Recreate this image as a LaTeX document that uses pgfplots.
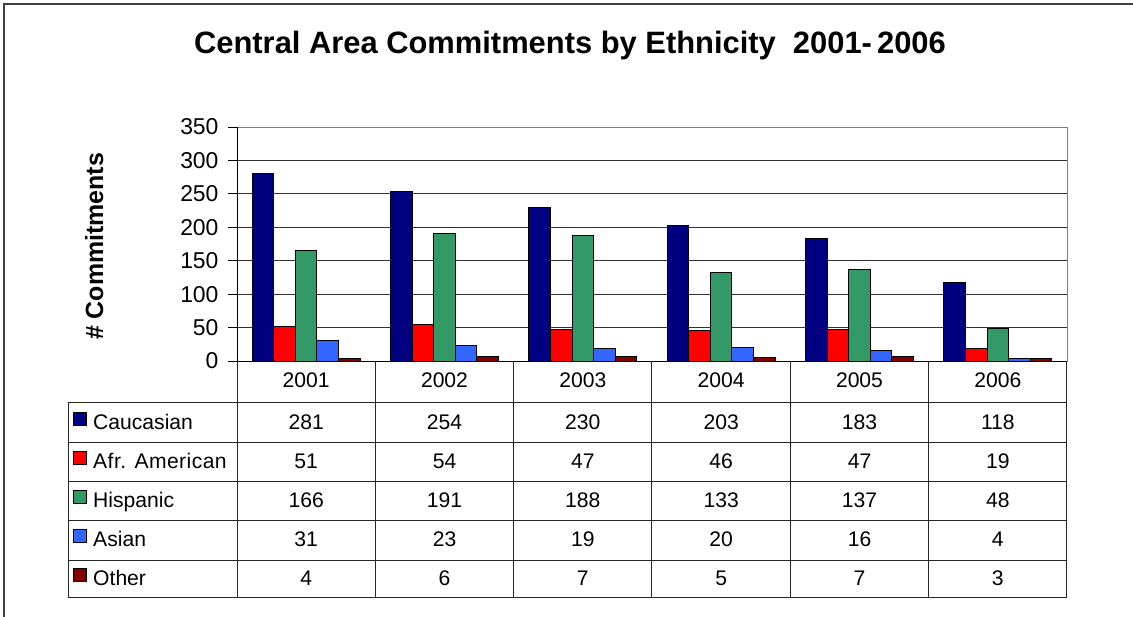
\documentclass[border=0pt]{standalone}
\usepackage{fontspec}
\setmainfont{Liberation Sans}
\usepackage{pgfplots}
\pgfplotsset{compat=1.18}
\definecolor{cauc}{RGB}{0,0,128}
\definecolor{afr}{RGB}{255,0,0}
\definecolor{hisp}{RGB}{51,153,102}
\definecolor{asian}{RGB}{51,102,255}
\definecolor{other}{RGB}{128,0,0}
\newcommand{\tf}{\fontsize{21.2}{24}\selectfont}
\begin{document}
\begin{tikzpicture}
\useasboundingbox (0,0) rectangle (1133bp,-617bp);
% outer frame (cropped)
\draw[black!75, line width=1.5bp] (4bp,-617bp) -- (4bp,-4bp) -- (1133bp,-4bp);
% title
\node[anchor=base, font=\fontsize{31}{36}\selectfont\bfseries, inner sep=0pt] at (570bp,-53bp) {Central Area Commitments by Ethnicity\ \ 2001-\,2006};
% y label
\node[anchor=base, rotate=90, font=\fontsize{25}{30}\selectfont\bfseries, inner sep=0pt] at (103bp,-246.5bp) {\# Commitments};
\begin{axis}[
  at={(237bp,-361bp)}, anchor=south west,
  scale only axis, width=830bp, height=234bp,
  xmin=-0.5, xmax=5.5, ymin=0, ymax=350,
  xtick=\empty, ytick={0,50,...,350}, ytick pos=left,
  tick align=outside, major tick length=9bp,
  ytick style={black, line width=0.8bp},
  ymajorgrids, grid style={black!80, line width=0.8bp},
  axis line style={draw=gray, line width=1bp},
  yticklabel style={font=\fontsize{23}{26}\selectfont, /pgf/number format/assume math mode=true, xshift=-6bp},
  ybar=0pt, bar width=21.6bp,
  clip=false,
]
\addplot[fill=cauc, draw=black, line width=1bp] coordinates {(0,281) (1,254) (2,230) (3,203) (4,183) (5,118)};
\addplot[fill=afr, draw=black, line width=1bp] coordinates {(0,51) (1,54) (2,47) (3,46) (4,47) (5,19)};
\addplot[fill=hisp, draw=black, line width=1bp] coordinates {(0,166) (1,191) (2,188) (3,133) (4,137) (5,48)};
\addplot[fill=asian, draw=black, line width=1bp] coordinates {(0,31) (1,23) (2,19) (3,20) (4,16) (5,4)};
\addplot[fill=other, draw=black, line width=1bp] coordinates {(0,4) (1,6) (2,7) (3,5) (4,7) (5,3)};
\draw[black, line width=1bp] (rel axis cs:0,0) -- (rel axis cs:0,1);
\draw[black, line width=1bp] (rel axis cs:0,0) -- (rel axis cs:1,0);
\end{axis}
% data table
\foreach \yy in {402,442,481,520,560,597} {
  \draw[black!85, line width=1bp] (68bp,-\yy bp) -- (1067bp,-\yy bp);
}
\draw[black!85, line width=1bp] (68bp,-402bp) -- (68bp,-597bp);
\foreach \k in {0,...,6} {
  \draw[black!85, line width=1bp] ({(237+138.333*\k)*1bp},-361bp) -- ({(237+138.333*\k)*1bp},-597bp);
}
\foreach \yr [count=\k from 0] in {2001,2002,2003,2004,2005,2006} {
  \node[anchor=base, font=\tf, inner sep=0pt] at ({(306.17+138.333*\k)*1bp},-387bp) {\yr};
}
\foreach \lab/\col/\yb/\vals in {
  Caucasian/cauc/429/{281,254,230,203,183,118},
  {\addfontfeature{LetterSpace=2}Afr. American}/afr/468/{51,54,47,46,47,19},
  Hispanic/hisp/507/{166,191,188,133,137,48},
  Asian/asian/546/{31,23,19,20,16,4},
  Other/other/585/{4,6,7,5,7,3}} {
  \fill[\col, draw=black, line width=1bp] (73.5bp,{-(\yb-3.5)*1bp}) rectangle (86.5bp,{-(\yb-16.5)*1bp});
  \node[anchor=base west, font=\tf, inner sep=0pt] at (93bp,-\yb bp) {\lab};
  \foreach \v [count=\k from 0] in \vals {
    \node[anchor=base, font=\tf, inner sep=0pt] at ({(306.17+138.333*\k)*1bp},-\yb bp) {\v};
  }
}
\end{tikzpicture}
\end{document}
